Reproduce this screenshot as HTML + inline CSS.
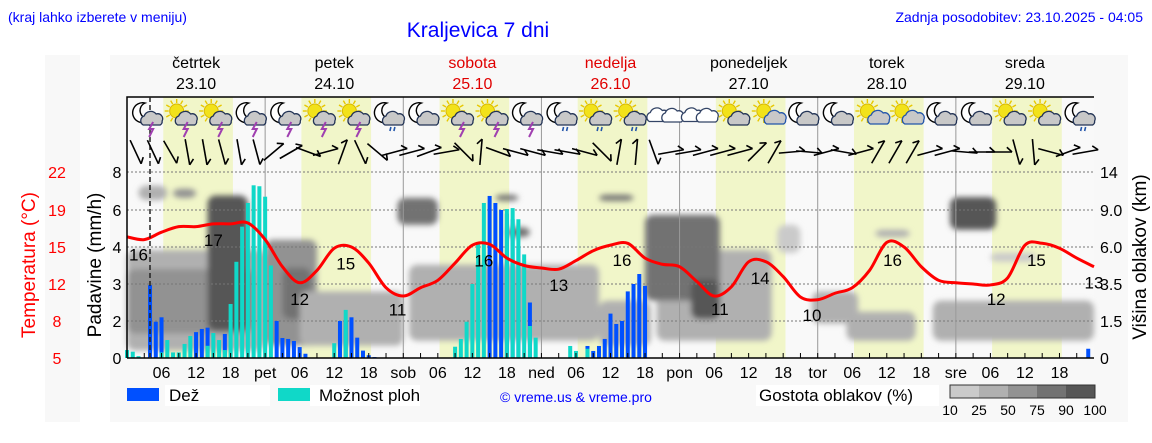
<!DOCTYPE html>
<html><head><meta charset="utf-8"><style>
html,body{margin:0;padding:0;background:#fff;}
svg{display:block;font-family:"Liberation Sans",sans-serif;}
</style></head><body>
<svg id="chart" width="1152" height="443" viewBox="0 0 1152 443" xmlns="http://www.w3.org/2000/svg">
<defs><filter id="blur" x="-20%" y="-20%" width="140%" height="140%"><feGaussianBlur stdDeviation="3"/></filter></defs>
<rect x="45" y="55" width="35" height="367" fill="#f8f8f8"/>
<rect x="110" y="55" width="1018" height="367" fill="#f8f8f8"/>
<text x="8" y="22" font-size="14" fill="#0000ff">(kraj lahko izberete v meniju)</text>
<text x="478" y="37" font-size="21" fill="#0000ff" text-anchor="middle">Kraljevica 7 dni</text>
<text x="1143" y="22" font-size="14" fill="#0000ff" text-anchor="end">Zadnja posodobitev: 23.10.2025 - 04:05</text>
<g id="plot"></g>
</svg>
<script>
const dayNames=["četrtek","petek","sobota","nedelja","ponedeljek","torek","sreda"];
const dayDates=["23.10","24.10","25.10","26.10","27.10","28.10","29.10"];
const dayAbbr=["","pet","sob","ned","pon","tor","sre"];
const rainTicks=[0,2,3,4,6,8];
const tempTicks=[5,8,12,15,19,22];
const kmTicks=["0","1.5","3.5","6.0","9.0","14"];
const kmVals=[0,1.5,3.5,6,9,14];
const rain=[
0,0,0,0,2.97,1.96,2.1,0,0,0,0,0,1.4,1.57,1.64,0,0,1.3,0,0,0,0,0,0,
0,0,2.0,1.08,1.03,0.92,0.59,0.23,0,0,0,0,0,2.0,2.0,2.1,1.1,0.4,0.15,0.05,0,0,0,0,
0,0,0,0,0,0,0,0,0,0,0,0,0,0,0,6.74,6.37,6.0,5.8,5.5,4,0,2.5,0,
0,0,0,0,0,0,0,0,0.65,0.38,0.65,1.03,2.2,1.84,2.0,2.8,3.0,3.27,2.95,0,0,0,0,0,
0,0,0,0,0,0,0,0,0,0,0,0,0,0,0,0,0,0,0,0,0,0,0,0,
0,0,0,0,0,0,0,0,0,0,0,0,0,0,0,0,0,0,0,0,0,0,0,0,
0,0,0,0,0,0,0,0,0,0,0,0,0,0,0,0,0,0,0,0,0,0,0,0.5];
const conv=[
0.43,0.34,0.1,0,0,0,0.3,0.97,0.3,0.3,0.76,1.19,0,0,0.66,1.35,0.97,0.43,2.46,3.6,5.1,6.37,7.3,7.25,
6.7,3.5,0,0,0,0,0,0,0,0,0,0,0.8,0,2.3,0,0,0,0,0,0,0,0,0,
0,0,0,0,0,0,0,0,0,0.61,1.03,1.96,3.0,4.27,6.37,0,0,0,6.05,6.1,5.5,3.8,1.73,1.1,
0,0,0,0,0,0.65,0.38,0,0.5,0,0,0,0,0,0,0,0,0,0,0,0,0,0,0,
0,0,0,0,0,0,0,0,0,0,0,0,0,0,0,0,0,0,0,0,0,0,0,0,
0,0,0,0,0,0,0,0,0,0,0,0,0,0,0,0,0,0,0,0,0,0,0,0,
0,0,0,0,0,0,0,0,0,0,0,0,0,0,0,0,0,0,0,0,0,0,0,0];
const temps=[16.1,15.8,16.6,17.2,17.2,17.5,17.5,17.6,
15.8,13.4,12.1,13.1,14.9,15,13.7,11.6,
10.7,11.6,12.3,13.7,15.2,15.3,14.1,13.5,
13.3,13.2,13.9,14.7,15.2,15.4,14.1,13.6,
13.4,12.2,10.7,11.7,13.8,13.8,12.6,10.6,
10.3,11,11.6,13.1,15.5,15,13.4,12.3,
12.1,12,11.9,12.5,15.2,15.4,14.9,14.1,13.4];
const tempLabelHours=[2,15,30,38,47,62,75,86,103,110,119,133,151,158,168];
const tempLabelVals=[16,17,12,15,11,16,13,16,11,14,10,16,12,15,13];
const windAng=[65,65,60,80,80,75,80,75,
-40,-30,20,-15,-70,65,40,-15,
-15,-20,-10,45,-85,20,15,15,
10,10,15,45,-80,-85,70,-10,
-10,-15,-15,-15,-45,-60,-5,5,
-15,10,-15,-60,-60,-60,-15,-15,
5,0,0,75,85,15,-20,-10];
const icons=["ms","ss","ss","ms","ms","ss","ss","mr","mc","ss","ss","ms","mr","sr","sr","c","c","sg","sc","mc","mc","sc","sc","mc","mc","sg","sg","mr"];
// clouds: hour start, hour end, km low, km high, density
const cloudH0=[0,0,14,2,8,24,27,30,47,49,82,64,66,82,92,90,98,113,119,125,140,143,150,130];
const cloudH1=[24,22,21,7,12,33,32,48,54,82,91,68,70,88,112,103,103,117,127,137,168,151,158,136];
const cloudLo=[0.3,1.0,1.1,10.3,10.6,0.5,1.6,0.5,7.8,0.7,0.5,10.2,6.8,10.2,0.7,2.6,1.6,5.6,1.4,0.7,0.7,7.4,5.0,6.8];
const cloudHi=[5.8,4.5,10.9,12.2,11.8,6.6,4.6,3.1,10.6,4.8,2.6,11.0,7.6,11.0,5.8,8.6,3.8,7.8,3.1,2.0,2.6,10.7,5.6,7.4];
const cloudD=[1,2,4,1,2,2,3,1,3,1,1,3,3,3,1,3,4,0,1,1,1,4,0,1];
const cloudColors=["#cacaca","#b0b0b0","#929292","#727272","#565656"];

const X0=127,X1=1094,YT=97,YB=358,HW=(X1-X0)/168;
const tickY=[358,321,284,247,210,172];
function pw(v,vals){for(let i=0;i<vals.length-1;i++){if(v<=vals[i+1]||i==vals.length-2){const t=(v-vals[i])/(vals[i+1]-vals[i]);return tickY[i]+t*(tickY[i+1]-tickY[i]);}}}
const xH=h=>X0+h*HW, yR=v=>pw(v,rainTicks), yT=v=>pw(v,tempTicks), yK=v=>pw(v,kmVals);
const NS="http://www.w3.org/2000/svg", g=document.getElementById('plot');
function mk(tag,attrs,parent,txt){const e=document.createElementNS(NS,tag);for(const k in attrs)e.setAttribute(k,attrs[k]);if(txt!==undefined)e.textContent=txt;(parent||g).appendChild(e);return e;}

let e=mk('rect',{x:X0,y:YT,width:X1-X0,height:YB-YT,fill:'#f9f9f9'});

for(let d=0;d<7;d++){
 e=mk('rect',{x:xH(d*24+6.3),y:YT,width:12.1*HW,height:YB-YT,fill:'#f1f6c9'});
 
}
const cg=mk('g',{filter:'url(#blur)'});

for(let i=0;i<cloudH0.length;i++){
 const x=xH(cloudH0[i]),w=xH(cloudH1[i])-x,y=yK(cloudHi[i]),hh=yK(cloudLo[i])-y;
 e=mk('rect',{x:x,y:y,width:w,height:hh,rx:Math.min(8,w/2),fill:cloudColors[cloudD[i]]},cg);
 
}
for(let i=1;i<tickY.length;i++){
 e=mk('line',{x1:X0,x2:X1,y1:tickY[i],y2:tickY[i],stroke:'#777','stroke-width':1,'stroke-dasharray':'2,2'});
 
}
for(let d=1;d<7;d++){
 e=mk('line',{x1:xH(d*24),x2:xH(d*24),y1:YT,y2:YB,stroke:'#999','stroke-width':1});
 
}
for(let h=0;h<168;h++){
 if(rain[h]>0){e=mk('rect',{x:xH(h)-2,y:yR(rain[h]),width:4,height:YB-yR(rain[h]),fill:'#0050ff'});
 }
}
for(let h=0;h<168;h++){
 if(conv[h]>0){e=mk('rect',{x:xH(h)-2,y:yR(conv[h]),width:4,height:YB-yR(conv[h]),fill:'#10d8c8'});
 }
}
const pts=temps.map((t,i)=>[xH(i*3),yT(t)]);
let d='M'+pts[0][0]+','+pts[0][1];
for(let i=0;i<pts.length-1;i++){const p0=pts[Math.max(0,i-1)],p1=pts[i],p2=pts[i+1],p3=pts[Math.min(pts.length-1,i+2)];
 d+=` C${p1[0]+(p2[0]-p0[0])/6},${p1[1]+(p2[1]-p0[1])/6} ${p2[0]-(p3[0]-p1[0])/6},${p2[1]-(p3[1]-p1[1])/6} ${p2[0]},${p2[1]}`;}
e=mk('path',{d:d,fill:'none',stroke:'#ff0000','stroke-width':3});

function tempAt(h){const i=Math.min(55,Math.floor(h/3)),f=(h-i*3)/3;return temps[i]+(temps[i+1]-temps[i])*f;}
for(let i=0;i<tempLabelHours.length;i++){
 e=mk('text',{x:xH(tempLabelHours[i]),y:yT(tempAt(tempLabelHours[i]))+22,'font-size':17,'text-anchor':'middle',fill:'#000'},g,String(tempLabelVals[i]));
 
}
e=mk('path',{d:`M${X0},${YB} L${X0},${YT} L${X1},${YT} M${X0},${YB} L${X1},${YB}`,stroke:'#000',fill:'none','stroke-width':1.5});

e=mk('line',{x1:150,x2:150,y1:YT,y2:YB,stroke:'#222','stroke-width':1.5,'stroke-dasharray':'5,3'});

for(let h=3;h<168;h+=3){e=mk('line',{x1:xH(h),x2:xH(h),y1:YB,y2:YB-5,stroke:'#000','stroke-width':1});
 }
for(let dd=0;dd<7;dd++){
 const labs=[[0,dayAbbr[dd]],[6,'06'],[12,'12'],[18,'18']];
 for(const [hh,t] of labs){if(!t)continue;
  e=mk('text',{x:xH(dd*24+hh),y:378,'font-size':16,'text-anchor':'middle'},g,t);
  }
 const wk=dd==2||dd==3;
 e=mk('text',{x:xH(dd*24+12),y:68,'font-size':16,'text-anchor':'middle',fill:wk?'#e00000':'#000'},g,dayNames[dd]);
 
 e=mk('text',{x:xH(dd*24+12),y:89,'font-size':16,'text-anchor':'middle',fill:wk?'#e00000':'#000'},g,dayDates[dd]);
 
}
for(let i=0;i<6;i++){
 e=mk('text',{x:117,y:tickY[i]+6,'font-size':16,'text-anchor':'middle'},g,String(rainTicks[i]));
 
 e=mk('text',{x:57,y:tickY[i]+6,'font-size':16,'text-anchor':'middle',fill:'#ff0000'},g,String(tempTicks[i]));
 
 e=mk('text',{x:1100,y:tickY[i]+6,'font-size':16},g,kmTicks[i]);
 
}
e=mk('text',{x:0,y:0,'font-size':19,'text-anchor':'middle',fill:'#ff0000',transform:'translate(35,265) rotate(-90)'},g,'Temperatura (°C)');

e=mk('text',{x:0,y:0,'font-size':19,'text-anchor':'middle',fill:'#000',transform:'translate(101,265) rotate(-90)'},g,'Padavine (mm/h)');

e=mk('text',{x:0,y:0,'font-size':19,'text-anchor':'middle',fill:'#000',transform:'translate(1146,257) rotate(-90)'},g,'Višina oblakov (km)');

for(let i=0;i<windAng.length;i++){
 const cx=xH(i*3+1.5),cy=152,a=windAng[i]*Math.PI/180,L=13;
 const dx=Math.cos(a)*L,dy=Math.sin(a)*L;
 const wb=mk('g',{stroke:'#000','stroke-width':1.6,fill:'none'});
 
 mk('line',{x1:cx-dx,y1:cy-dy,x2:cx+dx,y2:cy+dy},wb);
 mk('line',{x1:cx+dx,y1:cy+dy,x2:cx+dx+Math.cos(a-2.4)*7,y2:cy+dy+Math.sin(a-2.4)*7},wb);
}
function cloud(p,x,y,s,fill,stroke){mk('path',{d:`M${x-9*s},${y+5*s} a5,5 0 0 1 1,-9 a7,7 0 0 1 12,-2 a5,5 0 0 1 6,7 a4,4 0 0 1 -2,4 z`,fill:fill,stroke:stroke,'stroke-width':1.3},p);}
function sun(p,x,y){for(let k=0;k<12;k++){const a=k*Math.PI/6;mk('line',{x1:x+Math.cos(a)*8,y1:y+Math.sin(a)*8,x2:x+Math.cos(a)*12,y2:y+Math.sin(a)*12,stroke:'#e8c800','stroke-width':1.4},p);}
 mk('circle',{cx:x,cy:y,r:7,fill:'#f2e21a',stroke:'#d9b800','stroke-width':1},p);}
function moon(p,x,y){mk('path',{d:`M${x+3},${y-10} a10,10 0 1 0 6,15 a8,8 0 0 1 -6,-15 z`,fill:'#fff',stroke:'#000','stroke-width':1.4},p);}
for(let i=0;i<icons.length;i++){
 const t=icons[i],cx=xH(i*6+3.5),cy=116;
 const ig=mk('g',{});
 
 if(t[0]=='m')moon(ig,cx-5,cy-3);
 if(t[0]=='s')sun(ig,cx-5,cy-5);
 if(t=='c'){cloud(ig,cx-6,cy,1.1,'#fff','#334466');cloud(ig,cx+8,cy+1,1.0,'#fff','#334466');}
 else cloud(ig,cx+5,cy+4,t=='sc'?0.8:1,'#c8c8c8',t=='sc'?'#2255aa':'#223355');
 if(t[1]=='s')mk('path',{d:`M${cx+6},${cy+6} l-4,7 l4,0 l-4,8`,stroke:'#a040b0','stroke-width':2,fill:'none'},ig);
 if(t[1]=='r')mk('path',{d:`M${cx+2},${cy+11} l-1,4 M${cx+6},${cy+11} l-1,4`,stroke:'#2255aa','stroke-width':1.6},ig);
}
e=mk('rect',{x:127,y:388,width:32,height:13,fill:'#0050ff'});
e=mk('rect',{x:165,y:385,width:105,height:21,fill:'#fff'});
e=mk('text',{x:169,y:401,'font-size':17},g,'Dež');
e=mk('rect',{x:278,y:388,width:32,height:13,fill:'#10d8c8'});
e=mk('rect',{x:310,y:385,width:110,height:21,fill:'#fff'});
e=mk('text',{x:319,y:401,'font-size':17},g,'Možnost ploh');
e=mk('text',{x:500,y:402,'font-size':14,fill:'#0000ff'},g,'© vreme.us & vreme.pro');
e=mk('rect',{x:756,y:385,width:183,height:21,fill:'#fff'});
e=mk('text',{x:759,y:401,'font-size':17},g,'Gostota oblakov (%)');
const cbLabels=["10","25","50","75","90","100"];
for(let i=0;i<5;i++){e=mk('rect',{x:950+i*29,y:385,width:29,height:13,fill:cloudColors[i]});}
e=mk('rect',{x:950,y:385,width:145,height:13,fill:'none',stroke:'#333','stroke-width':1});
for(let i=0;i<6;i++){e=mk('text',{x:950+i*29,y:415,'font-size':14,'text-anchor':'middle'},g,cbLabels[i]);}
</script>
</body></html>
